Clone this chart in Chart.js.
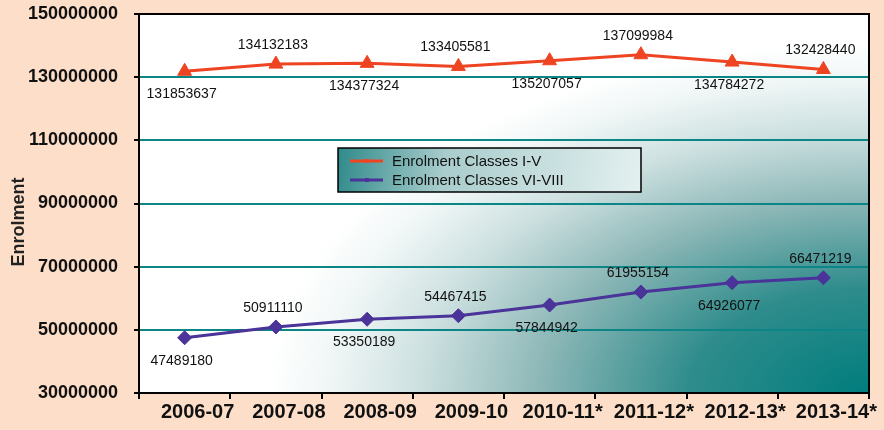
<!DOCTYPE html>
<html>
<head>
<meta charset="utf-8">
<script src="https://cdn.jsdelivr.net/npm/chart.js@4/dist/chart.umd.min.js"></script>
<style>
  body { margin: 0; background: #fddfc9; }
  canvas { display: block; }
</style>
</head>
<body>
<canvas id="enrolChart" width="884" height="430"></canvas>
<script>
// data
const categories = ["2006-07", "2007-08", "2008-09", "2009-10", "2010-11*", "2011-12*", "2012-13*", "2013-14*"];
const primaryEnrolment = [131853637, 134132183, 134377324, 133405581, 135207057, 137099984, 134784272, 132428440];
const upperPrimaryEnrolment = [47489180, 50911110, 53350189, 54467415, 57844942, 61955154, 64926077, 66471219];
const seriesNames = ["Enrolment Classes I-V", "Enrolment Classes VI-VIII"];
const yMin = 30000000, yMax = 150000000, yStep = 20000000;

const RED = "#ee4422";
const PURPLE = "#4a3399";
const TEAL = "#0b8585";

// gradient background of plot area (teal glow from bottom right) + frame
const plotBackground = {
  id: "plotBackground",
  beforeDraw(chart) {
    const { ctx, chartArea: a } = chart;
    const w = a.right - a.left, h = a.bottom - a.top;
    const rx = 600, ry = 350;
    ctx.save();
    ctx.fillStyle = "#fff";
    ctx.fillRect(a.left, a.top, w, h);
    ctx.beginPath();
    ctx.rect(a.left, a.top, w, h);
    ctx.clip();
    ctx.translate(a.right, a.bottom);
    ctx.scale(1, ry / rx);
    const g = ctx.createRadialGradient(0, 0, 0, 0, 0, rx);
    g.addColorStop(0, "#007d7d");
    g.addColorStop(0.3, "#2f8c8c");
    g.addColorStop(0.55, "#8db7b7");
    g.addColorStop(0.75, "#cde0e0");
    g.addColorStop(0.9, "#f0f6f6");
    g.addColorStop(1, "#ffffff");
    ctx.fillStyle = g;
    ctx.fillRect(-w, -h * rx / ry, w, h * rx / ry);
    ctx.restore();
  },
  beforeDatasetsDraw(chart) {
    const { ctx, chartArea: a } = chart;
    ctx.save();
    ctx.strokeStyle = "#000";
    ctx.lineWidth = 2;
    ctx.strokeRect(a.left, a.top, a.right - a.left, a.bottom - a.top);
    ctx.restore();
  }
};

// value labels, alternating below / above the points
const valueLabels = {
  id: "valueLabels",
  afterDatasetsDraw(chart) {
    const { ctx } = chart;
    ctx.save();
    ctx.font = "14px Arial, 'Liberation Sans', sans-serif";
    ctx.fillStyle = "#111";
    ctx.textAlign = "center";
    ctx.textBaseline = "middle";
    chart.data.datasets.forEach((ds, di) => {
      chart.getDatasetMeta(di).data.forEach((pt, i) => {
        const dy = i % 2 === 0 ? 23 : -19;
        ctx.fillText(String(ds.data[i]), pt.x - 3, pt.y + dy);
      });
    });
    ctx.restore();
  }
};

// boxed legend inside the plot + y title
const boxLegend = {
  id: "boxLegend",
  afterDraw(chart) {
    const { ctx, chartArea: a } = chart;
    const x = a.left + 199, y = a.top + 134, w = 303, h = 44;
    ctx.save();
    const g = ctx.createLinearGradient(x, y, x + w, y + h);
    g.addColorStop(0, "#2f8a8a");
    g.addColorStop(0.35, "#a9cccc");
    g.addColorStop(1, "#e4f0f0");
    ctx.fillStyle = g;
    ctx.fillRect(x, y, w, h);
    ctx.strokeStyle = "#000";
    ctx.lineWidth = 1.5;
    ctx.strokeRect(x, y, w, h);
    ctx.font = "15px Arial, 'Liberation Sans', sans-serif";
    ctx.textBaseline = "middle";
    ctx.textAlign = "left";
    const colors = [RED, PURPLE];
    seriesNames.forEach((name, i) => {
      const ly = y + 13 + i * 19;
      ctx.strokeStyle = colors[i];
      ctx.lineWidth = 3;
      ctx.beginPath();
      ctx.moveTo(x + 12, ly);
      ctx.lineTo(x + 45, ly);
      ctx.stroke();
      ctx.fillStyle = colors[i];
      ctx.fillRect(x + 27, ly - 2, 4, 4);
      ctx.fillStyle = "#111";
      ctx.fillText(name, x + 54, ly + 1);
    });

    ctx.translate(19, 222);
    ctx.rotate(-Math.PI / 2);
    ctx.font = "bold 18px Arial, 'Liberation Sans', sans-serif";
    ctx.textAlign = "center";
    ctx.textBaseline = "middle";
    ctx.fillStyle = "#222";
    ctx.fillText("Enrolment", 0, 0);
    ctx.restore();
  }
};

new Chart(document.getElementById("enrolChart"), {
  type: "line",
  data: {
    labels: categories,
    datasets: [
      {
        label: seriesNames[0],
        data: primaryEnrolment,
        borderColor: RED,
        backgroundColor: RED,
        borderWidth: 3,
        pointStyle: "triangle",
        pointRadius: 8,
        pointBorderWidth: 1,
        tension: 0
      },
      {
        label: seriesNames[1],
        data: upperPrimaryEnrolment,
        borderColor: PURPLE,
        backgroundColor: PURPLE,
        borderWidth: 3,
        pointStyle: "rectRot",
        pointRadius: 7,
        pointBorderWidth: 1,
        tension: 0
      }
    ]
  },
  options: {
    responsive: false,
    animation: false,
    layout: { padding: { top: 14, right: 15, bottom: 0, left: 0 } },
    plugins: {
      legend: { display: false },
      tooltip: { enabled: false }
    },
    scales: {
      x: {
        offset: true,
        grid: { drawOnChartArea: false, tickColor: "#000", tickLength: 6, lineWidth: 2, offset: true },
        border: { color: "#000", width: 2 },
        ticks: {
          color: "#111",
          font: { family: "Arial, 'Liberation Sans', sans-serif", size: 20, weight: "bold" },
          padding: 1,
          labelOffset: 13,
          maxRotation: 0,
          autoSkip: false
        },
        afterFit(scale) { scale.height = 37; }
      },
      y: {
        min: yMin,
        max: yMax,
        grid: { color: TEAL, lineWidth: 2, tickColor: "#000", tickLength: 5 },
        border: { color: "#000", width: 2 },
        ticks: {
          stepSize: yStep,
          color: "#111",
          padding: 16,
          font: { family: "Arial, 'Liberation Sans', sans-serif", size: 18, weight: "bold" },
          callback: (v) => String(v)
        },
        afterFit(scale) {
          scale.width = 139;
          scale.paddingTop = 0;
          scale.paddingBottom = 0;
        }
      }
    }
  },
  plugins: [plotBackground, valueLabels, boxLegend]
});
</script>
</body>
</html>
